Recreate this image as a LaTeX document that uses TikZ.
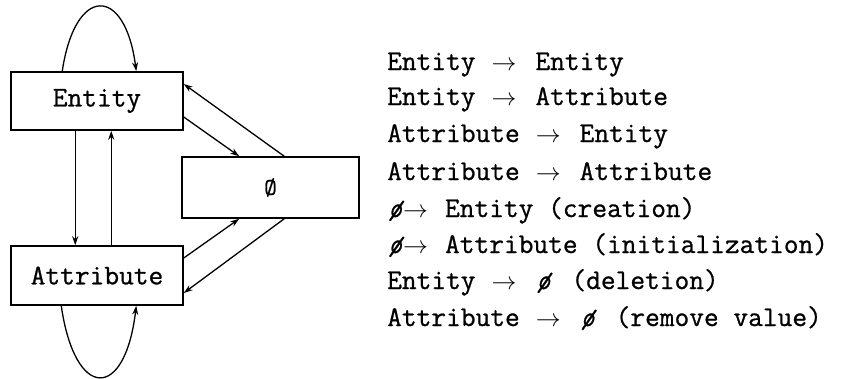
\documentclass[tikz,border=0pt]{standalone}
\usepackage{fontspec}
\usetikzlibrary{arrows.meta}
\newfontfamily\codefont{Latin Modern Mono}[FakeBold=0.8]
% arrow and empty-set marks used in the transition list
\newcommand{\goesto}{\hspace{16pt}$\rightarrow$\hspace{19pt}}
\newcommand{\nothingmark}{\hbox to 16pt{\hss{\itshape ø}\hss}}
\begin{document}
\begin{tikzpicture}[x=1pt,y=-1pt,
  every node/.style={font=\fontsize{28.6}{36}\selectfont\codefont},
  statebox/.style={draw,line width=1.5pt,inner sep=0pt},
  flow/.style={line width=1.3pt,-{Stealth[length=9pt,width=6pt]}},
  rule/.style={anchor=base west,inner sep=0pt}]
\useasboundingbox (0,0) rectangle (854,378);
% the three states
\node[statebox,minimum width=172pt,minimum height=58pt] (ent) at (97,101) {Entity};
\node[statebox,minimum width=172pt,minimum height=59pt] (attr) at (97,275.5) {Attribute};
\node[statebox,minimum width=177pt,minimum height=61pt] (empty) at (270.5,187.5) {\fontsize{24}{28}\selectfont Ø};
% self loops
\draw[flow] ([xshift=52pt]ent.north west) .. controls (75,-15) and (125,-15) .. ([xshift=126pt]ent.north west);
\draw[flow] ([xshift=51pt]attr.south west) .. controls (75,401) and (125,401) .. ([xshift=126pt]attr.south west);
% between entity and attribute
\draw[flow] ([xshift=65pt]ent.south west) -- ([xshift=65pt]attr.north west);
\draw[flow] ([xshift=101pt]attr.north west) -- ([xshift=101pt]ent.south west);
% to and from the empty state
\draw[flow] ([yshift=-16pt]ent.east) -- ([xshift=58pt]empty.north west);
\draw[flow] ([xshift=103pt]empty.north west) -- ([yshift=17pt]ent.east);
\draw[flow] ([yshift=17.5pt]attr.east) -- ([xshift=58pt]empty.south west);
\draw[flow] ([xshift=103pt]empty.south west) -- ([yshift=-17.5pt]attr.east);
% list of transitions
\node[rule] (r1) at (387,70) {Entity\goesto Entity};
\node[rule] (r2) at (387,105) {Entity\goesto Attribute};
\node[rule] (r3) at (387,142) {Attribute\goesto Entity};
\node[rule] (r4) at (387,180) {Attribute\goesto Attribute};
\node[rule] (r5) at (387,217) {\nothingmark$\rightarrow$\hspace{17pt}Entity (creation)};
\node[rule] (r6) at (387,253) {\nothingmark$\rightarrow$\hspace{17pt}Attribute (initialization)};
\node[rule] (r7) at (387,289) {Entity\goesto\nothingmark\hspace{20pt}(deletion)};
\node[rule] (r8) at (387,326) {Attribute\goesto\nothingmark\hspace{20pt}(remove value)};
\end{tikzpicture}
\end{document}
